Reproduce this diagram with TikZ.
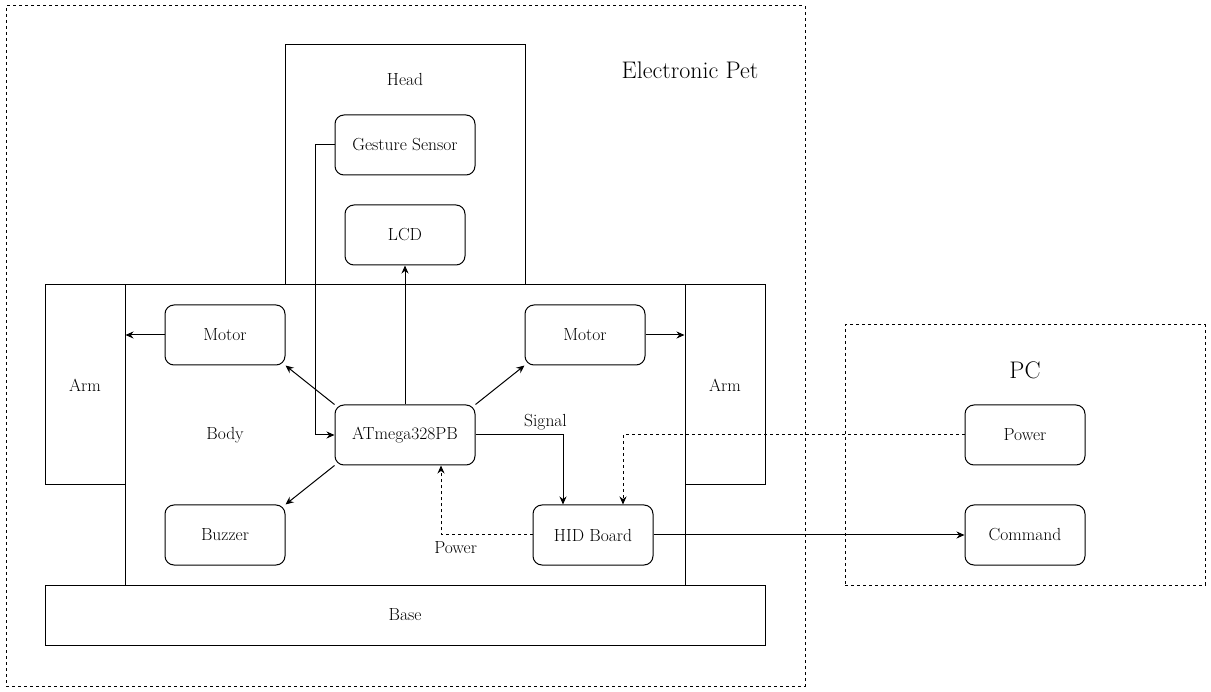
\documentclass[tikz,border=0pt]{standalone}
\usetikzlibrary{arrows.meta, positioning}

\begin{document}
\begin{tikzpicture}[x=1pt, y=-1pt,
  every node/.style={font=\fontsize{17.5}{20}\selectfont},
  box/.style={draw, rounded corners=9pt, minimum width=120pt,
              minimum height=60pt, align=center, line width=1pt},
  part/.style={draw, line width=1pt, inner sep=0pt},
  group/.style={draw, dash pattern=on 3pt off 3pt, line width=1pt, inner sep=0pt},
  title/.style={font=\fontsize{24}{28}\selectfont},
  arr/.style={-{Stealth[length=8pt, width=7pt]}, line width=1pt},
  pwr/.style={arr, dash pattern=on 3pt off 3pt}
]
  \useasboundingbox (0,0) rectangle (1211,692);

  % groups
  \node[group, minimum width=799pt, minimum height=680pt] (pet) at (405.5,346) {};
  \node[group, minimum width=360pt, minimum height=260pt] (pc)  at (1025,455) {};
  \node[title] (pettitle) at (690,70)  {Electronic Pet};
  \node[title] (pctitle)  at (1025,370) {PC};

  % body parts
  \node[part, minimum width=240pt, minimum height=240pt] (head) at (405,165) {};
  \node[part, minimum width=560pt, minimum height=300pt] (body) at (405,435) {};
  \node[part, minimum width=80pt,  minimum height=200pt] (armL) at (85,385)  {Arm};
  \node[part, minimum width=80pt,  minimum height=200pt] (armR) at (725,385) {Arm};
  \node[part, minimum width=720pt, minimum height=60pt]  (base) at (405,615) {Base};
  \node (headlbl) at (405,80)  {Head};
  \node (bodylbl) at (225,435) {Body};

  % modules
  \node[box, minimum width=140pt] (gest)   at (405,145) {Gesture Sensor};
  \node[box]                      (lcd)    at (405,235) {LCD};
  \node[box]                      (motorL) at (225,335) {Motor};
  \node[box]                      (motorR) at (585,335) {Motor};
  \node[box, minimum width=140pt] (mcu)    at (405,435) {ATmega328PB};
  \node[box]                      (buzzer) at (225,535) {Buzzer};
  \node[box]                      (hid)    at (593,535) {HID Board};
  \node[box]                      (pcpow)  at (1025,435) {Power};
  \node[box]                      (cmd)    at (1025,535) {Command};

  % connections
  \draw[arr] (gest.west) -- ++(-19,0) |- (mcu.west);
  \draw[arr] (mcu.north) -- (lcd.south);
  \draw[arr] (mcu.north west) -- (motorL.south east);
  \draw[arr] (mcu.north east) -- (motorR.south west);
  \draw[arr] (mcu.south west) -- (buzzer.north east);
  \draw[arr] (motorL.west) -- (motorL.west -| armL.east);
  \draw[arr] (motorR.east) -- (motorR.east -| armR.west);
  \draw[arr] (mcu.east) -| ([xshift=-30pt]hid.north)
             node[pos=0.4, above=1pt] {Signal};
  \draw[pwr] (hid.west) -| ([xshift=36pt]mcu.south)
             node[pos=0.42, below=3pt] {Power};
  \draw[pwr] (pcpow.west) -| ([xshift=30pt]hid.north);
  \draw[arr] (hid.east) -- (cmd.west);
\end{tikzpicture}
\end{document}
